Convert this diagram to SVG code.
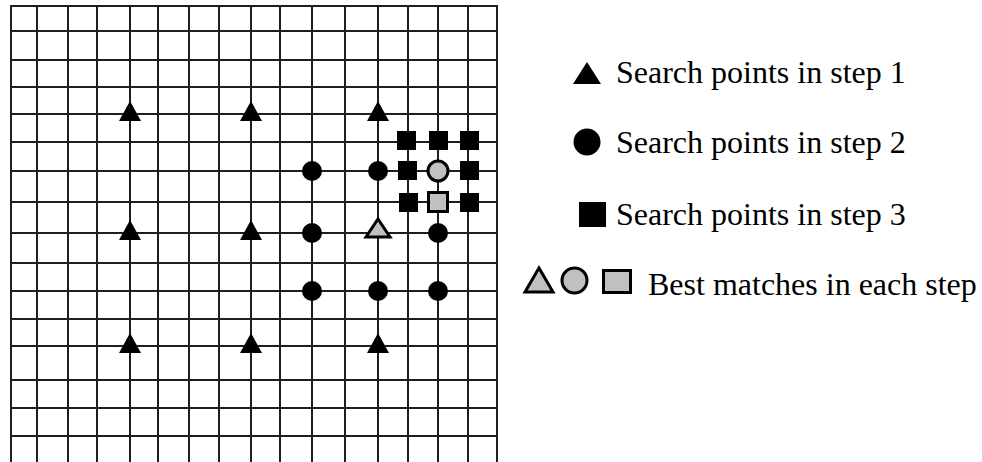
<svg xmlns="http://www.w3.org/2000/svg" width="982" height="462" viewBox="0 0 982 462">
<style>
.g line{stroke:#1e1e1e;stroke-width:2}
.blk{fill:#000}
.best{fill:#c0c0c0;stroke:#000;stroke-width:3}
.lbl{font-size:32px;fill:#000}
</style>
<defs>
<path id="tri" d="M0,-13 L11,7 L-11,7 Z"/>
</defs>
<rect x="0" y="0" width="982" height="462" fill="#fff"/>
<g id="grid" class="g">
<line x1="11" y1="6" x2="11" y2="462"/>
<line x1="37" y1="6" x2="37" y2="462"/>
<line x1="68" y1="6" x2="68" y2="462"/>
<line x1="97" y1="6" x2="97" y2="462"/>
<line x1="130" y1="6" x2="130" y2="462"/>
<line x1="158" y1="6" x2="158" y2="462"/>
<line x1="189" y1="6" x2="189" y2="462"/>
<line x1="219" y1="6" x2="219" y2="462"/>
<line x1="251" y1="6" x2="251" y2="462"/>
<line x1="280" y1="6" x2="280" y2="462"/>
<line x1="312" y1="6" x2="312" y2="462"/>
<line x1="345" y1="6" x2="345" y2="462"/>
<line x1="378" y1="6" x2="378" y2="462"/>
<line x1="408" y1="6" x2="408" y2="462"/>
<line x1="438" y1="6" x2="438" y2="462"/>
<line x1="468" y1="6" x2="468" y2="462"/>
<line x1="497" y1="6" x2="497" y2="462"/>
<line x1="10" y1="6" x2="498" y2="6"/>
<line x1="10" y1="31" x2="498" y2="31"/>
<line x1="10" y1="60" x2="498" y2="60"/>
<line x1="10" y1="87" x2="498" y2="87"/>
<line x1="10" y1="114" x2="498" y2="114"/>
<line x1="10" y1="142" x2="498" y2="142"/>
<line x1="10" y1="171" x2="498" y2="171"/>
<line x1="10" y1="202" x2="498" y2="202"/>
<line x1="10" y1="233" x2="498" y2="233"/>
<line x1="10" y1="263" x2="498" y2="263"/>
<line x1="10" y1="291" x2="498" y2="291"/>
<line x1="10" y1="319" x2="498" y2="319"/>
<line x1="10" y1="346" x2="498" y2="346"/>
<line x1="10" y1="380" x2="498" y2="380"/>
<line x1="10" y1="408" x2="498" y2="408"/>
<line x1="10" y1="436" x2="498" y2="436"/>
</g>
<g id="step1" class="blk">
<use href="#tri" x="130" y="114"/>
<use href="#tri" x="251" y="114"/>
<use href="#tri" x="378" y="114"/>
<use href="#tri" x="130" y="233"/>
<use href="#tri" x="251" y="233"/>
<use href="#tri" x="130" y="346"/>
<use href="#tri" x="251" y="346"/>
<use href="#tri" x="378" y="346"/>
</g>
<g id="step2" class="blk">
<circle cx="312" cy="171" r="10"/>
<circle cx="378" cy="171" r="10"/>
<circle cx="312" cy="233" r="10"/>
<circle cx="438" cy="233" r="10"/>
<circle cx="312" cy="291" r="10"/>
<circle cx="378" cy="291" r="10"/>
<circle cx="438" cy="291" r="10"/>
</g>
<g id="step3" class="blk">
<rect x="397" y="131" width="19" height="19"/>
<rect x="429" y="131" width="19" height="19"/>
<rect x="460" y="131" width="19" height="19"/>
<rect x="398" y="161" width="19" height="19"/>
<rect x="460" y="161" width="19" height="19"/>
<rect x="399" y="193" width="19" height="19"/>
<rect x="460" y="193" width="19" height="19"/>
</g>
<g id="best">
<path class="best" d="M378,219 L390,237 L366,237 Z"/>
<circle class="best" cx="438" cy="171" r="10"/>
<rect class="best" x="428.5" y="192.5" width="19" height="19"/>
</g>
<g id="legend" font-family="'Liberation Serif', 'DejaVu Serif', 'Times New Roman', serif">
<path class="blk" d="M587,62 L601,84 L573,84 Z"/>
<text class="lbl" x="616" y="83" font-family="Liberation Serif, DejaVu Serif, serif">Search points in step 1</text>
<circle class="blk" cx="587" cy="142" r="13.5"/>
<text class="lbl" x="616" y="153" font-family="Liberation Serif, DejaVu Serif, serif">Search points in step 2</text>
<rect class="blk" x="579" y="202" width="27" height="25"/>
<text class="lbl" x="616" y="225" font-family="Liberation Serif, DejaVu Serif, serif">Search points in step 3</text>
<path class="best" d="M539,268 L553,292 L525,292 Z"/>
<circle class="best" cx="574.5" cy="280.5" r="12.5"/>
<rect class="best" x="603.5" y="270.5" width="27" height="22"/>
<text class="lbl" x="648" y="295" font-family="Liberation Serif, DejaVu Serif, serif">Best matches in each step</text>
</g>
</svg>
